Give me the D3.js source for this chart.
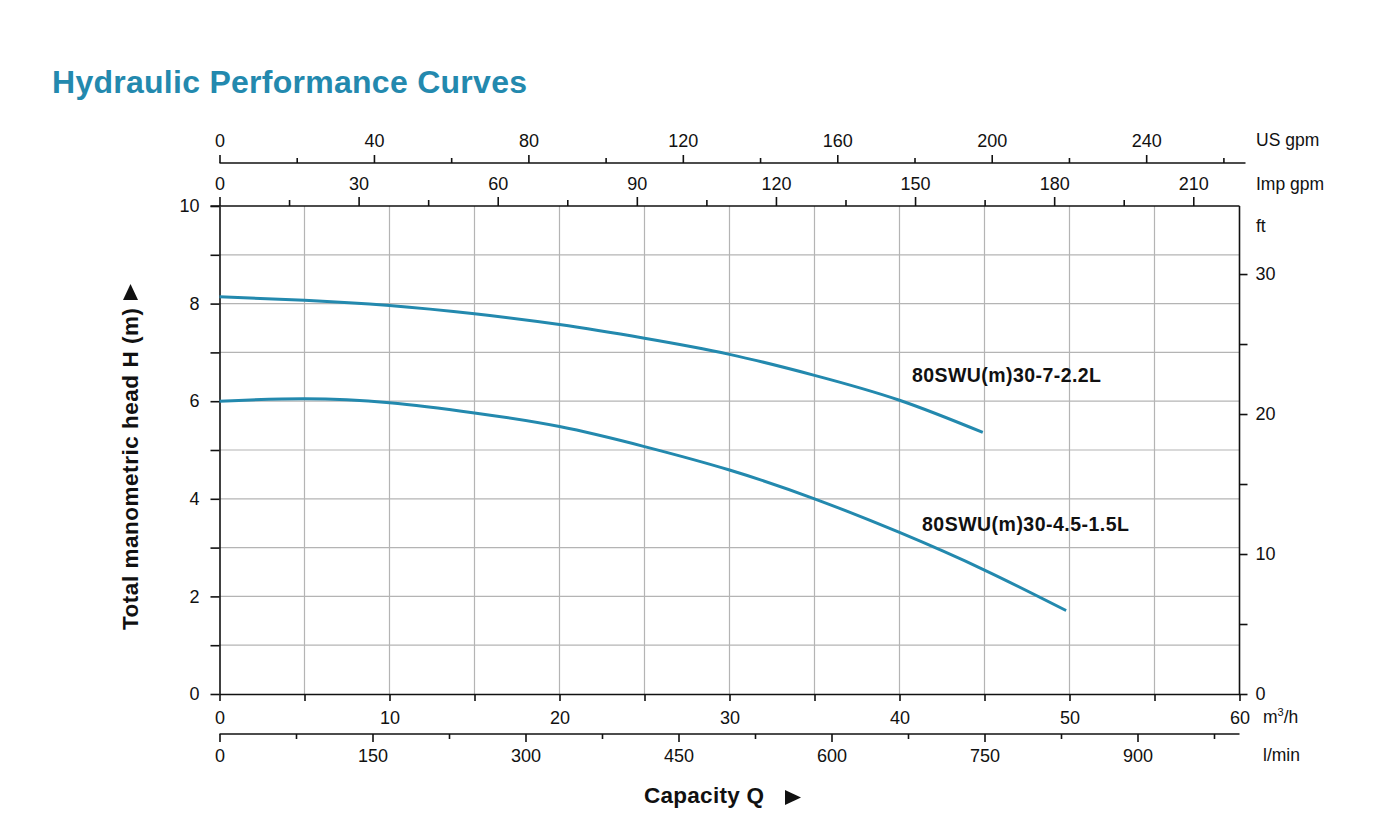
<!DOCTYPE html>
<html><head><meta charset="utf-8">
<script src="https://cdn.jsdelivr.net/npm/d3@7"></script>
<style>
html,body{margin:0;padding:0;background:#fff;}
svg{display:block;font-family:"Liberation Sans",Arial,Helvetica,sans-serif;}
</style></head>
<body>
<svg id="chart" width="1400" height="835"></svg>
<script>
// ---- data ----
const curveNames = ["80SWU(m)30-7-2.2L", "80SWU(m)30-4.5-1.5L"];
const q1 = [0, 5, 10, 15, 20, 25, 30, 35, 40, 44.9];
const h1 = [8.14, 8.07, 7.96, 7.79, 7.57, 7.29, 6.96, 6.53, 6.02, 5.36];
const q2 = [0, 5, 10, 15, 20, 25, 30, 35, 40, 45, 49.8];
const h2 = [6.00, 6.05, 5.97, 5.76, 5.48, 5.07, 4.59, 4.00, 3.31, 2.54, 1.71];
const m3hTicks = [0, 10, 20, 30, 40, 50, 60];
const lminTicks = [0, 150, 300, 450, 600, 750, 900];
const usgpmTicks = [0, 40, 80, 120, 160, 200, 240];
const impgpmTicks = [0, 30, 60, 90, 120, 150, 180, 210];
const headTicks = [0, 2, 4, 6, 8, 10];
const ftTicks = [0, 10, 20, 30];

// ---- layout ----
const L = 219.5, R = 1239.5, T = 206, B = 694;
const teal = "#2389ae";
const FS = 18;
const svg = d3.select("#chart");

const x = d3.scaleLinear().domain([0, 60]).range([L, R]);
const y = d3.scaleLinear().domain([0, 10]).range([B, T]);
const xL = d3.scaleLinear().domain([0, 1000]).range([L, R]);
const xUS = d3.scaleLinear().domain([0, 264.17]).range([L, R]);
const xImp = d3.scaleLinear().domain([0, 219.97]).range([L, R]);
const yFt = d3.scaleLinear().domain([0, 34.86]).range([B, T]);

// title
svg.append("text").attr("x", 52).attr("y", 93)
  .attr("font-size", 32).attr("font-weight", "bold").attr("fill", teal)
  .attr("textLength", 475).text("Hydraulic Performance Curves");

// grid
const g = svg.append("g");
g.selectAll(".vg").data(d3.range(5, 60, 5)).join("line")
  .attr("x1", d => x(d)).attr("x2", d => x(d)).attr("y1", T).attr("y2", B)
  .attr("stroke", "#b4b4b4").attr("stroke-width", 1.2);
g.selectAll(".hg").data(d3.range(1, 10, 1)).join("line")
  .attr("x1", L).attr("x2", R).attr("y1", d => y(d)).attr("y2", d => y(d))
  .attr("stroke", "#b4b4b4").attr("stroke-width", 1.2);

function styleAxis(sel, fs) {
  sel.select(".domain").attr("stroke", "#111").attr("stroke-width", 1.6);
  sel.selectAll(".tick line").attr("stroke", "#111").attr("stroke-width", 1.6);
  sel.selectAll(".tick text").attr("fill", "#111").attr("font-size", fs)
    .attr("font-family", '"Liberation Sans",Arial,sans-serif');
}

// bottom m3/h axis
const axB = svg.append("g").attr("transform", `translate(0,${B})`)
  .call(d3.axisBottom(x).tickValues(d3.range(0, 61, 5)).tickSize(7).tickSizeOuter(0)
    .tickFormat(d => m3hTicks.includes(d) ? d : ""));
styleAxis(axB, FS);
axB.selectAll(".tick text").attr("dy", "0").attr("y", 30);

// l/min axis
const axLm = svg.append("g").attr("transform", `translate(0,734)`)
  .call(d3.axisBottom(xL).tickValues(d3.range(0, 1000, 75)).tickSize(8).tickSizeOuter(0)
    .tickFormat(d => lminTicks.includes(d) ? d : ""));
styleAxis(axLm, FS);
axLm.selectAll(".tick line").attr("y2", d => lminTicks.includes(d) ? 8 : 5);
axLm.selectAll(".tick text").attr("dy", "0").attr("y", 28);
axLm.select(".domain").attr("d", `M${L},0H${R}`);

// top US gpm axis
const axUS = svg.append("g").attr("transform", `translate(0,163)`)
  .call(d3.axisTop(xUS).tickValues(d3.range(0, 261, 20)).tickSize(8).tickSizeOuter(0)
    .tickFormat(d => usgpmTicks.includes(d) ? d : ""));
styleAxis(axUS, FS);
axUS.selectAll(".tick line").attr("y2", d => usgpmTicks.includes(d) ? -8 : -5);
axUS.selectAll(".tick text").attr("dy", "0").attr("y", -16);
axUS.select(".domain").attr("d", `M${L},0H${R + 6}`);

// top Imp gpm axis (plot top border)
const axImp = svg.append("g").attr("transform", `translate(0,${T})`)
  .call(d3.axisTop(xImp).tickValues(d3.range(0, 216, 15)).tickSize(9).tickSizeOuter(0)
    .tickFormat(d => impgpmTicks.includes(d) ? d : ""));
styleAxis(axImp, FS);
axImp.selectAll(".tick line").attr("y2", d => impgpmTicks.includes(d) ? -9 : -6);
axImp.selectAll(".tick text").attr("dy", "0").attr("y", -16);
axImp.select(".domain").attr("d", `M${L - 9},0H${R}`);

// left head axis
const axLft = svg.append("g").attr("transform", `translate(${L},0)`)
  .call(d3.axisLeft(y).tickValues(d3.range(0, 11, 1)).tickSize(9).tickSizeOuter(0)
    .tickFormat(d => headTicks.includes(d) ? d : ""));
styleAxis(axLft, FS);
axLft.selectAll(".tick text").attr("x", -20);

// right ft axis
const axRt = svg.append("g").attr("transform", `translate(${R},0)`)
  .call(d3.axisRight(yFt).tickValues(d3.range(0, 31, 5)).tickSize(8).tickSizeOuter(0)
    .tickFormat(d => ftTicks.includes(d) ? d : ""));
styleAxis(axRt, FS);
axRt.selectAll(".tick text").attr("x", 16);
axRt.select(".domain").attr("d", `M0,${B}V${T}`);

// unit labels
const unit = (tx, ty, t) => svg.append("text").attr("x", tx).attr("y", ty)
  .attr("font-size", 17.5).attr("fill", "#111").text(t);
unit(1256, 146, "US gpm");
unit(1256, 190, "Imp gpm");
unit(1256, 232, "ft");
unit(1263, 761, "l/min");
const m3 = svg.append("text").attr("x", 1263).attr("y", 723).attr("font-size", 17.5).attr("fill", "#111");
m3.append("tspan").text("m");
m3.append("tspan").attr("font-size", 11).attr("dy", -7).text("3");
m3.append("tspan").attr("dy", 7).text("/h");

// curves
const line = d3.line().x(d => x(d[0])).y(d => y(d[1])).curve(d3.curveNatural);
const series = [d3.zip(q1, h1), d3.zip(q2, h2)];
svg.selectAll(".curve").data(series).join("path")
  .attr("d", line).attr("fill", "none").attr("stroke", teal).attr("stroke-width", 3);

// curve labels
svg.append("text").attr("x", 912).attr("y", 382).attr("font-size", 19.5).attr("font-weight", "bold")
  .attr("fill", "#111").attr("textLength", 189).text(curveNames[0]);
svg.append("text").attr("x", 922).attr("y", 531).attr("font-size", 19.5).attr("font-weight", "bold")
  .attr("fill", "#111").attr("textLength", 207).text(curveNames[1]);

// axis titles
svg.append("text").attr("x", 644).attr("y", 803).attr("font-size", 22.5).attr("font-weight", "bold")
  .attr("fill", "#111").attr("textLength", 120).text("Capacity Q");
svg.append("path").attr("d", "M785,790L801,797.5L785,805Z").attr("fill", "#111");
svg.append("text").attr("transform", "translate(138,630) rotate(-90)")
  .attr("text-anchor", "start").attr("font-size", 22.5).attr("font-weight", "bold")
  .attr("fill", "#111").attr("textLength", 322).text("Total manometric head H (m)");
svg.append("path").attr("d", "M123,300L130.5,284L138,300Z").attr("fill", "#111");
</script>
</body></html>
